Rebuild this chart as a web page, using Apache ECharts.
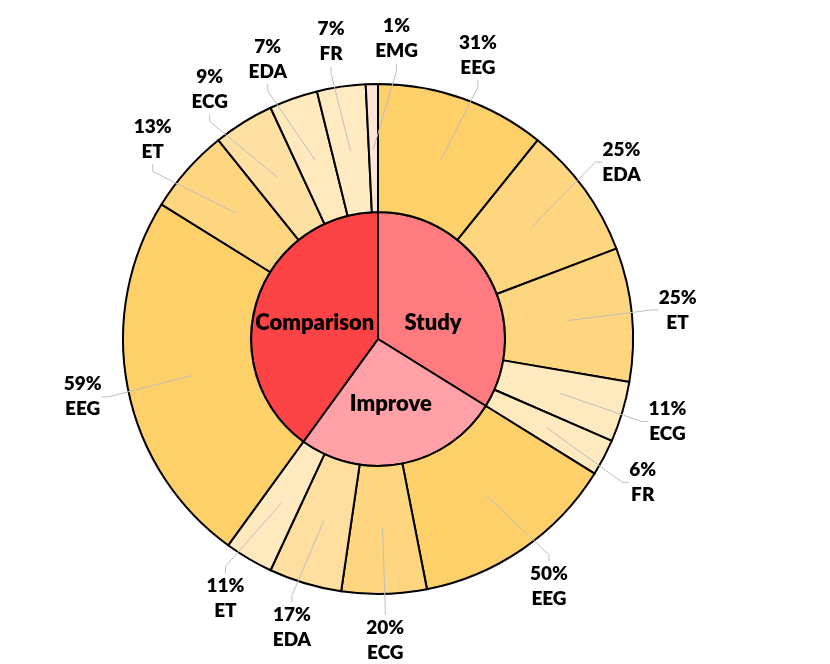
<!DOCTYPE html>
<html>
<head>
<meta charset="utf-8">
<style>
html,body{margin:0;padding:0;background:#fff;}
#chart{width:830px;height:664px;}
</style>
<script src="https://cdn.jsdelivr.net/npm/echarts@6/dist/echarts.min.js"></script>
</head>
<body>
<div id="chart"></div>
<script>
// ---- data ----
const parentNames = ['Study', 'Improve', 'Comparison'];
const studyNames = ['EEG', 'EDA', 'ET', 'ECG', 'FR'];
const studyCounts = [14, 11, 11, 5, 3];
const improveNames = ['EEG', 'ECG', 'EDA', 'ET'];
const improveCounts = [17, 7, 6, 4];
const comparisonNames = ['EEG', 'ET', 'ECG', 'EDA', 'FR', 'EMG'];
const comparisonCounts = [31, 7, 5, 4, 4, 1];

// ---- styles ----
const parentColors = ['#FF7B7F', '#FFA1A6', '#FC4446'];
const studyColors = ['#FDD069', '#FED680', '#FED680', '#FFEAC0', '#FFEAC0'];
const improveColors = ['#FDD069', '#FED680', '#FFDF9F', '#FFEAC0'];
const comparisonColors = ['#FDD069', '#FED680', '#FFE0A3', '#FFE9BD', '#FFEAC2', '#FCE4D6'];

const CX = 378, CY = 339, R_IN = 127, R_OUT = 255, R_ANCHOR = 190, R_LABEL = 301;
const MIN_SEP = 12.5; // minimum angular separation between outer labels (deg)
const FONT = 'Lato, "Open Sans", sans-serif';

const groups = [
  {names: studyNames, counts: studyCounts, colors: studyColors},
  {names: improveNames, counts: improveCounts, colors: improveColors},
  {names: comparisonNames, counts: comparisonCounts, colors: comparisonColors}
];
const parentTotals = groups.map(g => g.counts.reduce((a, b) => a + b, 0));
const grandTotal = parentTotals.reduce((a, b) => a + b, 0);

const innerData = parentNames.map((n, i) => ({
  name: n, value: parentTotals[i], itemStyle: {color: parentColors[i]}
}));

const outerData = [];
const outerParent = [];
groups.forEach((g, gi) => {
  g.names.forEach((n, j) => {
    outerData.push({name: n, value: g.counts[j], itemStyle: {color: g.colors[j]}});
    outerParent.push(gi);
  });
});

// mid angle (deg, clockwise from 12 o'clock) of each outer item
const midAngles = [];
let acc = 0;
outerData.forEach(d => {
  midAngles.push((acc + d.value / 2) / grandTotal * 360);
  acc += d.value;
});
// spread label angles so neighbouring labels keep a minimum separation
const labelAngles = midAngles.slice();
for (let it = 0; it < 200; it++) {
  let moved = false;
  for (let i = 0; i < labelAngles.length; i++) {
    const j = (i + 1) % labelAngles.length;
    let b = labelAngles[j];
    if (j === 0) b += 360;
    const gap = b - labelAngles[i];
    if (gap < MIN_SEP) {
      const d = (MIN_SEP - gap) / 2 + 0.01;
      labelAngles[i] -= d;
      labelAngles[j] += d;
      moved = true;
    }
  }
  if (!moved) break;
}

const chart = echarts.init(document.getElementById('chart'), null, {renderer: 'canvas'});
chart.setOption({
  backgroundColor: '#ffffff',
  animation: false,
  series: [
    {
      type: 'pie',
      center: [CX, CY],
      radius: [0, R_IN],
      startAngle: 90,
      clockwise: true,
      silent: true,
      data: innerData,
      itemStyle: {borderColor: '#000', borderWidth: 2},
      label: {
        show: true, position: 'inside', color: '#000',
        fontFamily: FONT, fontWeight: 800, fontSize: 22,
        formatter: '{b}'
      },
      labelLine: {show: false},
      labelLayout: function (p) {
        if (p.dataIndex === 0) return {dy: 16, dx: -3};
        if (p.dataIndex === 2) return {dy: 4};
        return {};
      }
    },
    {
      type: 'pie',
      center: [CX, CY],
      radius: [R_IN, R_OUT],
      startAngle: 90,
      clockwise: true,
      silent: true,
      data: outerData,
      itemStyle: {borderColor: '#000', borderWidth: 2},
      label: {show: false},
      labelLine: {show: false}
    },
    {
      type: 'pie',
      z: 5,
      center: [CX, CY],
      radius: [R_IN, R_ANCHOR],
      startAngle: 90,
      clockwise: true,
      silent: true,
      data: outerData.map(d => ({name: d.name, value: d.value})),
      itemStyle: {color: 'rgba(0,0,0,0)', borderWidth: 0},
      label: {
        show: true, position: 'outside', color: '#000',
        fontFamily: FONT, fontWeight: 800, fontSize: 19, lineHeight: 25,
        formatter: function (p) {
          const pct = Math.floor(p.value / parentTotals[outerParent[p.dataIndex]] * 100);
          return pct + '%\n' + p.name;
        }
      },
      labelLine: {
        show: true, length: 20, length2: 7, minTurnAngle: 0,
        lineStyle: {color: '#BFBFBF', width: 1}
      },
      labelLayout: function (p) {
        const a = labelAngles[p.dataIndex] * Math.PI / 180;
        return {
          x: CX + R_LABEL * Math.sin(a),
          y: CY - R_LABEL * Math.cos(a),
          align: 'center',
          verticalAlign: 'middle'
        };
      }
    }
  ]
});
</script>
</body>
</html>
